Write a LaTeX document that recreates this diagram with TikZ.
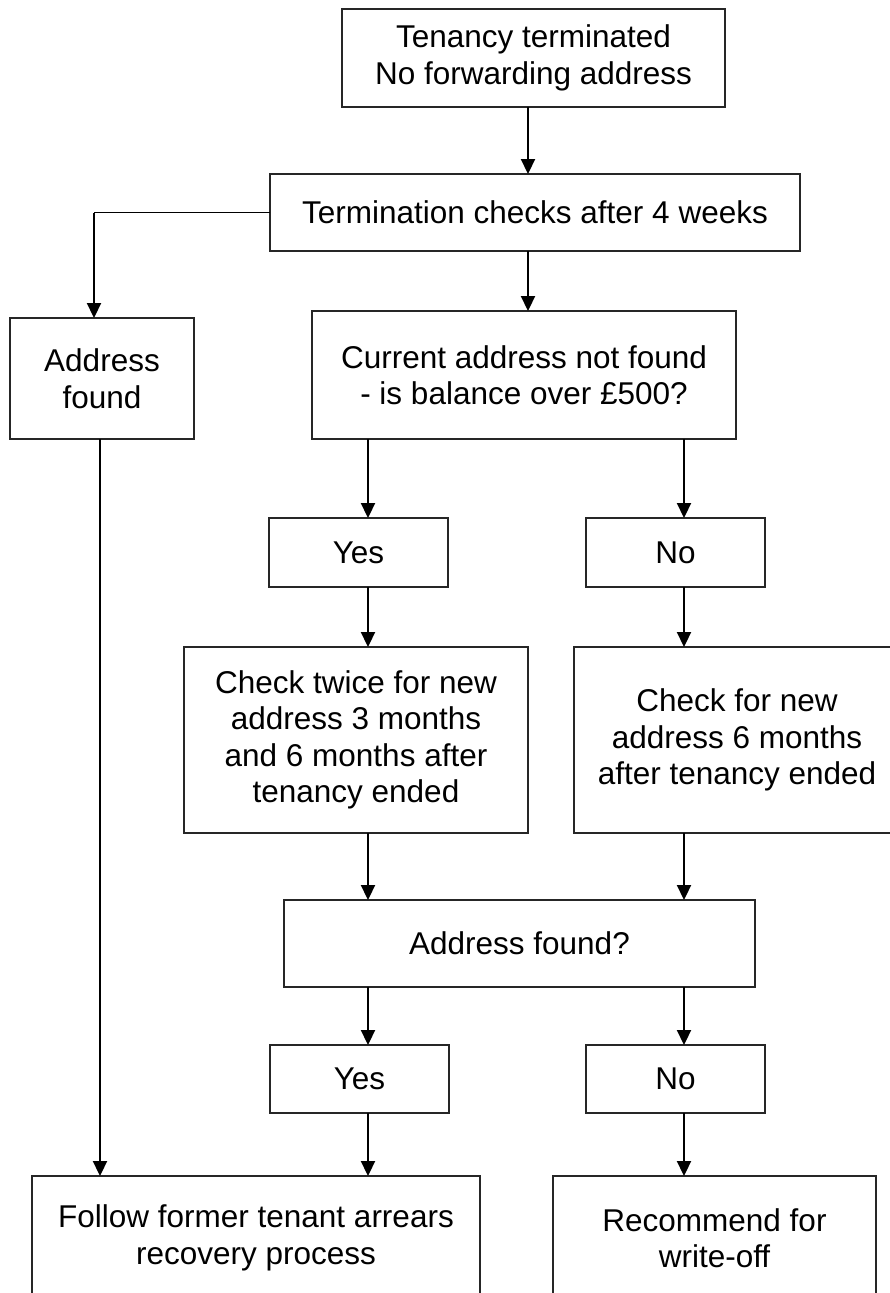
\documentclass[tikz,border=0pt]{standalone}
\usepackage{fontspec}
\setmainfont{Liberation Sans}
\usetikzlibrary{arrows.meta}

\tikzset{
  box/.style={draw=black!85, line width=1.3pt, fill=white, inner sep=0pt, outer sep=0pt,
    align=center, font=\fontsize{31.5}{36.5}\selectfont},
  conn/.style={line width=2.2pt, -{Triangle[length=15pt,width=14pt]}},
  thinconn/.style={line width=1.3pt},
}

\begin{document}
\begin{tikzpicture}[x=1pt,y=-1pt]
  \useasboundingbox (0,0) rectangle (890,1293);
  \clip (0,0) rectangle (890,1293);

  % columns used by the connectors
  \coordinate (cmid) at (528,0);
  \coordinate (cleftA) at (94,0);
  \coordinate (cleftB) at (100,0);
  \coordinate (cyes) at (368,0);
  \coordinate (cno) at (684,0);

  % boxes
  \node[box, minimum width=383pt, minimum height=98pt] (start) at (533.5,58)
    {Tenancy terminated\\No forwarding address};
  \node[box, minimum width=530pt, minimum height=77pt] (checks) at (535,212.5)
    {Termination checks after 4 weeks};
  \node[box, minimum width=184pt, minimum height=121pt] (found) at (102,378.5)
    {Address\\found};
  \node[box, minimum width=424pt, minimum height=128pt] (notfound) at (524,375)
    {Current address not found\\- is balance over £500?};
  \node[box, minimum width=179pt, minimum height=69pt] (yesA) at (358.5,552.5) {Yes};
  \node[box, minimum width=179pt, minimum height=69pt] (noA) at (675.5,552.5) {No};
  \node[box, minimum width=344pt, minimum height=186pt] (twice) at (356,740)
    {Check twice for new\\address 3 months\\and 6 months after\\tenancy ended};
  \node[box, minimum width=326pt, minimum height=186pt] (once) at (737,740)
    {Check for new\\address 6 months\\after tenancy ended};
  \node[box, minimum width=471pt, minimum height=87pt] (question) at (519.5,943.5)
    {Address found?};
  \node[box, minimum width=179pt, minimum height=68pt] (yesB) at (359.5,1079) {Yes};
  \node[box, minimum width=179pt, minimum height=68pt] (noB) at (675.5,1079) {No};
  \node[box, minimum width=448pt, minimum height=124pt] (recover) at (256,1238)
    {Follow former tenant arrears\\recovery process};
  \node[box, minimum width=323pt, minimum height=124pt] (writeoff) at (714.5,1238)
    {Recommend for\\write-off};

  % connectors
  \draw[conn] (start.south -| cmid) -- (checks.north -| cmid);
  \draw[conn] (checks.south -| cmid) -- (notfound.north -| cmid);
  \draw[thinconn] (checks.west) -- (checks.west -| cleftA);
  \draw[conn] (checks.west -| cleftA) -- (found.north -| cleftA);
  \draw[conn] (found.south -| cleftB) -- (recover.north -| cleftB);

  \draw[conn] (notfound.south -| cyes) -- (yesA.north -| cyes);
  \draw[conn] (notfound.south -| cno) -- (noA.north -| cno);
  \draw[conn] (yesA.south -| cyes) -- (twice.north -| cyes);
  \draw[conn] (noA.south -| cno) -- (once.north -| cno);
  \draw[conn] (twice.south -| cyes) -- (question.north -| cyes);
  \draw[conn] (once.south -| cno) -- (question.north -| cno);
  \draw[conn] (question.south -| cyes) -- (yesB.north -| cyes);
  \draw[conn] (question.south -| cno) -- (noB.north -| cno);
  \draw[conn] (yesB.south -| cyes) -- (recover.north -| cyes);
  \draw[conn] (noB.south -| cno) -- (writeoff.north -| cno);
\end{tikzpicture}
\end{document}
